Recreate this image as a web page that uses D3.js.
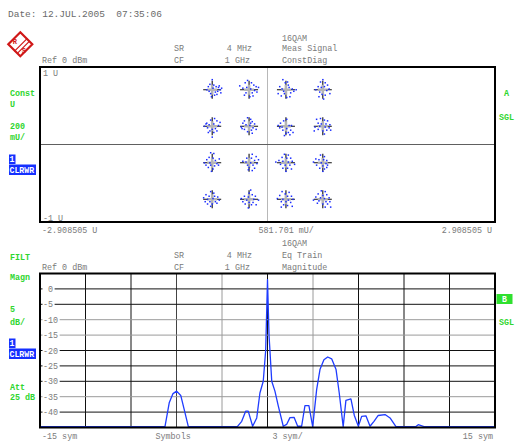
<!DOCTYPE html>
<html><head><meta charset="utf-8">
<script src="https://cdn.jsdelivr.net/npm/d3@7/dist/d3.min.js"></script>
<style>
html,body{margin:0;padding:0;background:#fff;}
svg{display:block;}
text{font-family:"Liberation Mono","DejaVu Sans Mono",monospace;white-space:pre;}
</style></head>
<body>
<svg id="chart" width="517" height="444"></svg>
<script>
// ---------- DATA ----------
// Constellation diagram (16QAM), ideal levels in U
const constI = [-0.7071, -0.2357, 0.2357, 0.7071];
const constQ = [0.7071, 0.2357, -0.2357, -0.7071];
// measured scatter around each ideal point: [dI, dQ] in 0.01 U (row-major, top row first)
const scatter = [
 [[0,13],[-3,7],[2,6],[5,4],[8,3],[10,0],[7,-2],[11,-4],[4,-3],[-4,-2],[-7,0],[-2,-5],[3,-7],[6,-6],[-5,4],[9,5],[1,2],[-1,-9],[12,2]],
 [[-12,5],[-8,2],[-5,9],[-2,12],[3,9],[6,6],[9,4],[12,3],[7,-1],[4,-4],[-4,-4],[-6,-7],[1,-9],[5,-8],[-3,3],[10,-3],[2,1]],
 [[-4,13],[-1,9],[2,10],[-8,4],[-5,1],[4,3],[8,1],[13,0],[10,-2],[6,-4],[-2,-5],[-6,-8],[-10,-5],[1,-10],[5,-9],[-3,-2],[3,6]],
 [[0,13],[-3,10],[3,9],[-6,4],[2,4],[-9,0],[-4,-3],[5,-1],[8,1],[-1,-6],[3,-7],[-5,-9],[1,-12],[9,-5],[-2,3],[6,6]],
 [[3,10],[-2,8],[6,7],[10,5],[-8,3],[-4,2],[2,3],[8,1],[-10,0],[-6,-2],[4,-3],[0,-4],[-3,-6],[2,-8],[6,-6],[-5,-8],[0,-14],[-7,4]],
 [[-2,11],[2,9],[-6,7],[4,6],[-8,4],[7,3],[-4,2],[1,1],[-10,-1],[5,-2],[-6,-4],[3,-5],[9,-4],[-2,-7],[4,-9],[-9,-3],[2,4]],
 [[-3,7],[1,9],[-7,4],[-10,1],[-5,-1],[4,1],[7,1],[1,-3],[-4,-5],[6,-5],[3,-8],[0,-9],[-2,-12],[5,-11],[9,-8],[-8,-2]],
 [[-8,9],[-3,10],[2,8],[6,7],[-6,4],[-2,3],[4,3],[9,2],[-10,-1],[-4,0],[3,-1],[8,-2],[-6,-4],[0,-6],[5,-5],[-11,-6],[2,-10],[10,-5]],
 [[-2,13],[2,12],[-4,7],[1,6],[-7,4],[4,3],[9,5],[-10,0],[-3,0],[6,-1],[-8,-3],[-2,-3],[3,-4],[8,-3],[-5,-6],[1,-8],[-1,-11]],
 [[4,11],[9,8],[-3,6],[3,6],[7,3],[12,4],[-8,2],[-4,1],[2,0],[10,-1],[-2,-3],[5,-3],[0,-6],[7,-7],[-1,-9],[4,-10]],
 [[-2,11],[3,10],[-5,7],[1,6],[6,6],[-9,3],[-13,1],[-4,2],[3,1],[8,2],[-7,-2],[-1,-3],[5,-3],[11,-2],[-4,-7],[2,-7],[7,-8],[0,-11]],
 [[-3,10],[2,8],[-9,5],[-5,4],[1,4],[5,3],[-12,1],[-2,0],[4,-1],[-8,-3],[0,-4],[6,-3],[-4,-7],[2,-8],[5,-6],[0,-11]],
 [[-2,10],[2,8],[-8,6],[-4,4],[3,4],[7,3],[-11,2],[-6,0],[1,1],[9,-1],[-9,-3],[-3,-3],[4,-3],[-6,-6],[0,-6],[6,-5],[-2,-9]],
 [[2,12],[0,8],[4,6],[-6,4],[-1,3],[8,4],[-10,1],[-3,-1],[6,0],[12,-1],[-8,-3],[0,-4],[5,-4],[-5,-6],[3,-7],[9,-7],[-1,-11]],
 [[-5,10],[4,9],[-1,7],[-8,5],[2,4],[7,4],[-11,1],[-4,0],[3,-1],[9,0],[-6,-3],[0,-3],[6,-4],[-3,-7],[2,-8],[8,-9],[-6,-10]],
 [[-2,11],[3,10],[-6,7],[0,5],[5,6],[-9,3],[-3,2],[2,1],[8,2],[-12,-1],[-5,-2],[4,-3],[9,-3],[-7,-5],[0,-6],[6,-6],[3,-10],[10,-10]]
];
const constXDomain = [-2.908505, 2.908505];
const constYDomain = [-1, 1];

// Equalizer training magnitude trace
const symbols = [-15,-6.76,-6.48,-6.23,-5.99,-5.72,-5.49,-5.22,-1.99,-1.70,-1.44,-1.27,-0.98,-0.71,-0.50,-0.28,-0.12,0.0,0.10,0.28,0.49,0.71,1.04,1.26,1.48,1.75,1.99,2.25,2.47,2.73,2.98,3.24,3.46,3.72,3.97,4.23,4.52,4.73,4.99,5.17,5.50,5.72,5.99,6.21,6.49,6.76,7.02,7.30,7.75,8.08,8.47,9.79,9.94,10.32,15];
const magnitude = [-44.7,-44.7,-37.0,-34.0,-33.2,-34.6,-39.2,-44.7,-44.7,-43.0,-39.7,-39.7,-44.6,-41.9,-33.8,-30.0,-20.0,3.0,-15.0,-30.0,-33.2,-38.0,-44.6,-44.0,-41.8,-41.7,-44.6,-44.6,-37.9,-37.9,-44.7,-32.7,-26.2,-23.0,-22.1,-22.7,-26.2,-33.8,-44.7,-36.2,-35.7,-41.0,-44.6,-41.4,-41.2,-44.6,-43.0,-41.1,-40.8,-41.9,-44.7,-44.7,-44.1,-44.7,-44.7];
const magXDomain = [-15, 15];
const magYDomain = [5, -45];
const magYTicks = [0,-5,-10,-15,-20,-25,-30,-35,-40];
const magXTicks = [-15,-12,-9,-6,-3,0,3,6,9,12,15];

// ---------- DRAWING ----------
const svg = d3.select("#chart");
const GRAY = "#7a7a7a", GREEN = "#2fd62f", BLUE = "#1530ff";

function txt(x, y, s, opt = {}) {
  return svg.append("text").attr("x", x).attr("y", y).text(s)
    .attr("font-size", opt.size || 8.4)
    .attr("fill", opt.fill || GRAY)
    .attr("font-weight", opt.bold ? "bold" : "normal")
    .attr("text-anchor", opt.anchor || "start");
}
function box(x, y, w, h, fill, label, tx) {
  svg.append("rect").attr("x", x).attr("y", y).attr("width", w).attr("height", h).attr("fill", fill);
  txt(tx == null ? x + 1 : tx, y + h - 2, label, {fill: "#fff", bold: true, size: 8.2});
}

// Header
txt(8, 17, "Date: 12.JUL.2005  07:35:06", {size: 9.5, fill: "#6a6a6a"});

// R&S logo
const logo = svg.append("g").attr("transform", "translate(20.3,44.3)");
logo.append("path").attr("d", "M0,-12L12,0L0,12L-12,0Z").attr("fill", "#fff").attr("stroke", "#d01818").attr("stroke-width", 2.2);
logo.append("path").attr("d", "M-6,7L7,-6M-3,9L9,-3").attr("stroke", "#d01818").attr("stroke-width", 1.2);
logo.append("text").attr("x", -5.5).attr("y", -0.5).text("R").attr("font-size", 7).attr("font-weight", "bold").attr("fill", "#d01818").attr("text-anchor", "middle").attr("font-family", "Liberation Sans, sans-serif");
logo.append("text").attr("x", 3.5).attr("y", 8.5).text("S").attr("font-size", 7).attr("font-weight", "bold").attr("fill", "#d01818").attr("text-anchor", "middle").attr("font-family", "Liberation Sans, sans-serif");

// Panel A header
txt(282, 40.5, "16QAM");
txt(174, 51, "SR"); txt(252, 51, "4 MHz", {anchor: "end"}); txt(282, 51, "Meas Signal");
txt(42, 63, "Ref 0 dBm"); txt(174, 63, "CF"); txt(250, 63, "1 GHz", {anchor: "end"}); txt(282, 63, "ConstDiag");

// Panel A side labels
txt(10, 96, "Const", {fill: GREEN, bold: true});
txt(10, 107, "U", {fill: GREEN, bold: true});
txt(10, 129, "200", {fill: GREEN, bold: true});
txt(10, 140, "mU/", {fill: GREEN, bold: true});
box(9, 154.5, 6.5, 9.5, BLUE, "1", 9.5);
box(9, 164.5, 27, 10.5, BLUE, "CLRWR", 9.5);
txt(504, 96, "A", {fill: GREEN, bold: true});
txt(499, 119.5, "SGL", {fill: GREEN, bold: true});

// Panel A plot
const ax = d3.scaleLinear().domain(constXDomain).range([40, 495]);
const ay = d3.scaleLinear().domain(constYDomain).range([222, 67]);
const gA = svg.append("g");
gA.append("line").attr("x1", ax(0)).attr("x2", ax(0)).attr("y1", 67).attr("y2", 222).attr("stroke", "#b8b8b8").attr("stroke-width", 1);
gA.append("line").attr("x1", 40).attr("x2", 495).attr("y1", ay(0)).attr("y2", ay(0)).attr("stroke", "#606060").attr("stroke-width", 1);

const clusters = [];
constQ.forEach((q, r) => constI.forEach((i, c) => clusters.push({i, q, pts: scatter[r * 4 + c]})));
clusters.forEach(cl => {
  const cx = ax(cl.i), cy = ay(cl.q);
  const g = gA.append("g");
  g.append("path").attr("d", `M${cx - 9},${cy}H${cx + 9}M${cx},${cy - 9}V${cy + 9}`).attr("stroke", "#111").attr("stroke-width", 1.1);
  g.append("path").attr("d", `M${cx - 5},${cy}H${cx + 5}M${cx},${cy - 5}V${cy + 5}`).attr("stroke", "#b5b5b5").attr("stroke-width", 2.6);
  g.selectAll("rect.pt").data(cl.pts).join("rect")
    .attr("x", d => ax(cl.i + d[0] / 100) - 0.7)
    .attr("y", d => ay(cl.q + d[1] / 100) - 0.7)
    .attr("width", 1.5).attr("height", 1.5).attr("fill", "#1a2cff");
});
gA.append("rect").attr("x", 40).attr("y", 67).attr("width", 455).attr("height", 155).attr("fill", "none").attr("stroke", "#000").attr("stroke-width", 2);
txt(43, 76, "1 U");
txt(43, 220.5, "-1 U");
txt(42, 233, "-2.908505 U");
txt(258.5, 233, "581.701 mU/");
txt(492, 233, "2.908505 U", {anchor: "end"});

// Panel B header
txt(282, 246, "16QAM");
txt(174, 258, "SR"); txt(252, 258, "4 MHz", {anchor: "end"}); txt(282, 258, "Eq Train");
txt(10, 260, "FILT", {fill: GREEN, bold: true});
txt(42, 269.5, "Ref 0 dBm"); txt(174, 269.5, "CF"); txt(250, 269.5, "1 GHz", {anchor: "end"}); txt(282, 269.5, "Magnitude");

// Panel B side labels
txt(10, 280, "Magn", {fill: GREEN, bold: true});
txt(10, 312, "5", {fill: GREEN, bold: true});
txt(10, 324.5, "dB/", {fill: GREEN, bold: true});
box(9, 338.5, 6.5, 9.5, BLUE, "1", 9.5);
box(9, 348.5, 27, 10.5, BLUE, "CLRWR", 9.5);
txt(10, 390, "Att", {fill: GREEN, bold: true});
txt(10, 400, "25 dB", {fill: GREEN, bold: true});
box(496.5, 294, 16, 10, "#2fe02f", "B", 502);
txt(499, 324.5, "SGL", {fill: GREEN, bold: true});

// Panel B plot
const bx = d3.scaleLinear().domain(magXDomain).range([40, 495]);
const by = d3.scaleLinear().domain(magYDomain).range([273.5, 427.5]);
const gB = svg.append("g");
const vGray = {"-6": "#444", "-3": "#9a9a9a", "3": "#9a9a9a"};
gB.selectAll("line.v").data(magXTicks.slice(1, -1)).join("line")
  .attr("x1", d => bx(d)).attr("x2", d => bx(d)).attr("y1", 273.5).attr("y2", 427.5)
  .attr("stroke", d => vGray[d] || "#111").attr("stroke-width", 1);
const hGray = {"-10": "#9a9a9a", "-15": "#9a9a9a", "-35": "#9a9a9a"};
gB.selectAll("line.h").data(magYTicks).join("line")
  .attr("x1", 40).attr("x2", 495).attr("y1", d => by(d)).attr("y2", d => by(d))
  .attr("stroke", d => hGray[d] || "#111").attr("stroke-width", 1);
magYTicks.forEach(t => {
  const s = t === 0 ? " 0" : String(t).replace("-", "−");
  const w = s.length * 5.05;
  gB.append("rect").attr("x", 42.5).attr("y", by(t) - 4).attr("width", w + 2).attr("height", 8).attr("fill", "#fff");
  gB.append("text").attr("x", 43).attr("y", by(t) + 3).text(t === 0 ? " 0" : "-" + Math.abs(t))
    .attr("font-size", 8.4).attr("fill", GRAY);
});
const line = d3.line().x((d, k) => bx(symbols[k])).y(d => by(d));
gB.append("path").datum(magnitude).attr("d", line).attr("fill", "none").attr("stroke", "#1f3cff").attr("stroke-width", 1.3).attr("stroke-linejoin", "round");
gB.append("rect").attr("x", 40).attr("y", 273.5).attr("width", 455).attr("height", 154).attr("fill", "none").attr("stroke", "#000").attr("stroke-width", 2);
txt(42, 439, "-15 sym");
txt(155.5, 439, "Symbols");
txt(272.5, 439, "3 sym/");
txt(493, 439, "15 sym", {anchor: "end"});
</script>
</body></html>
